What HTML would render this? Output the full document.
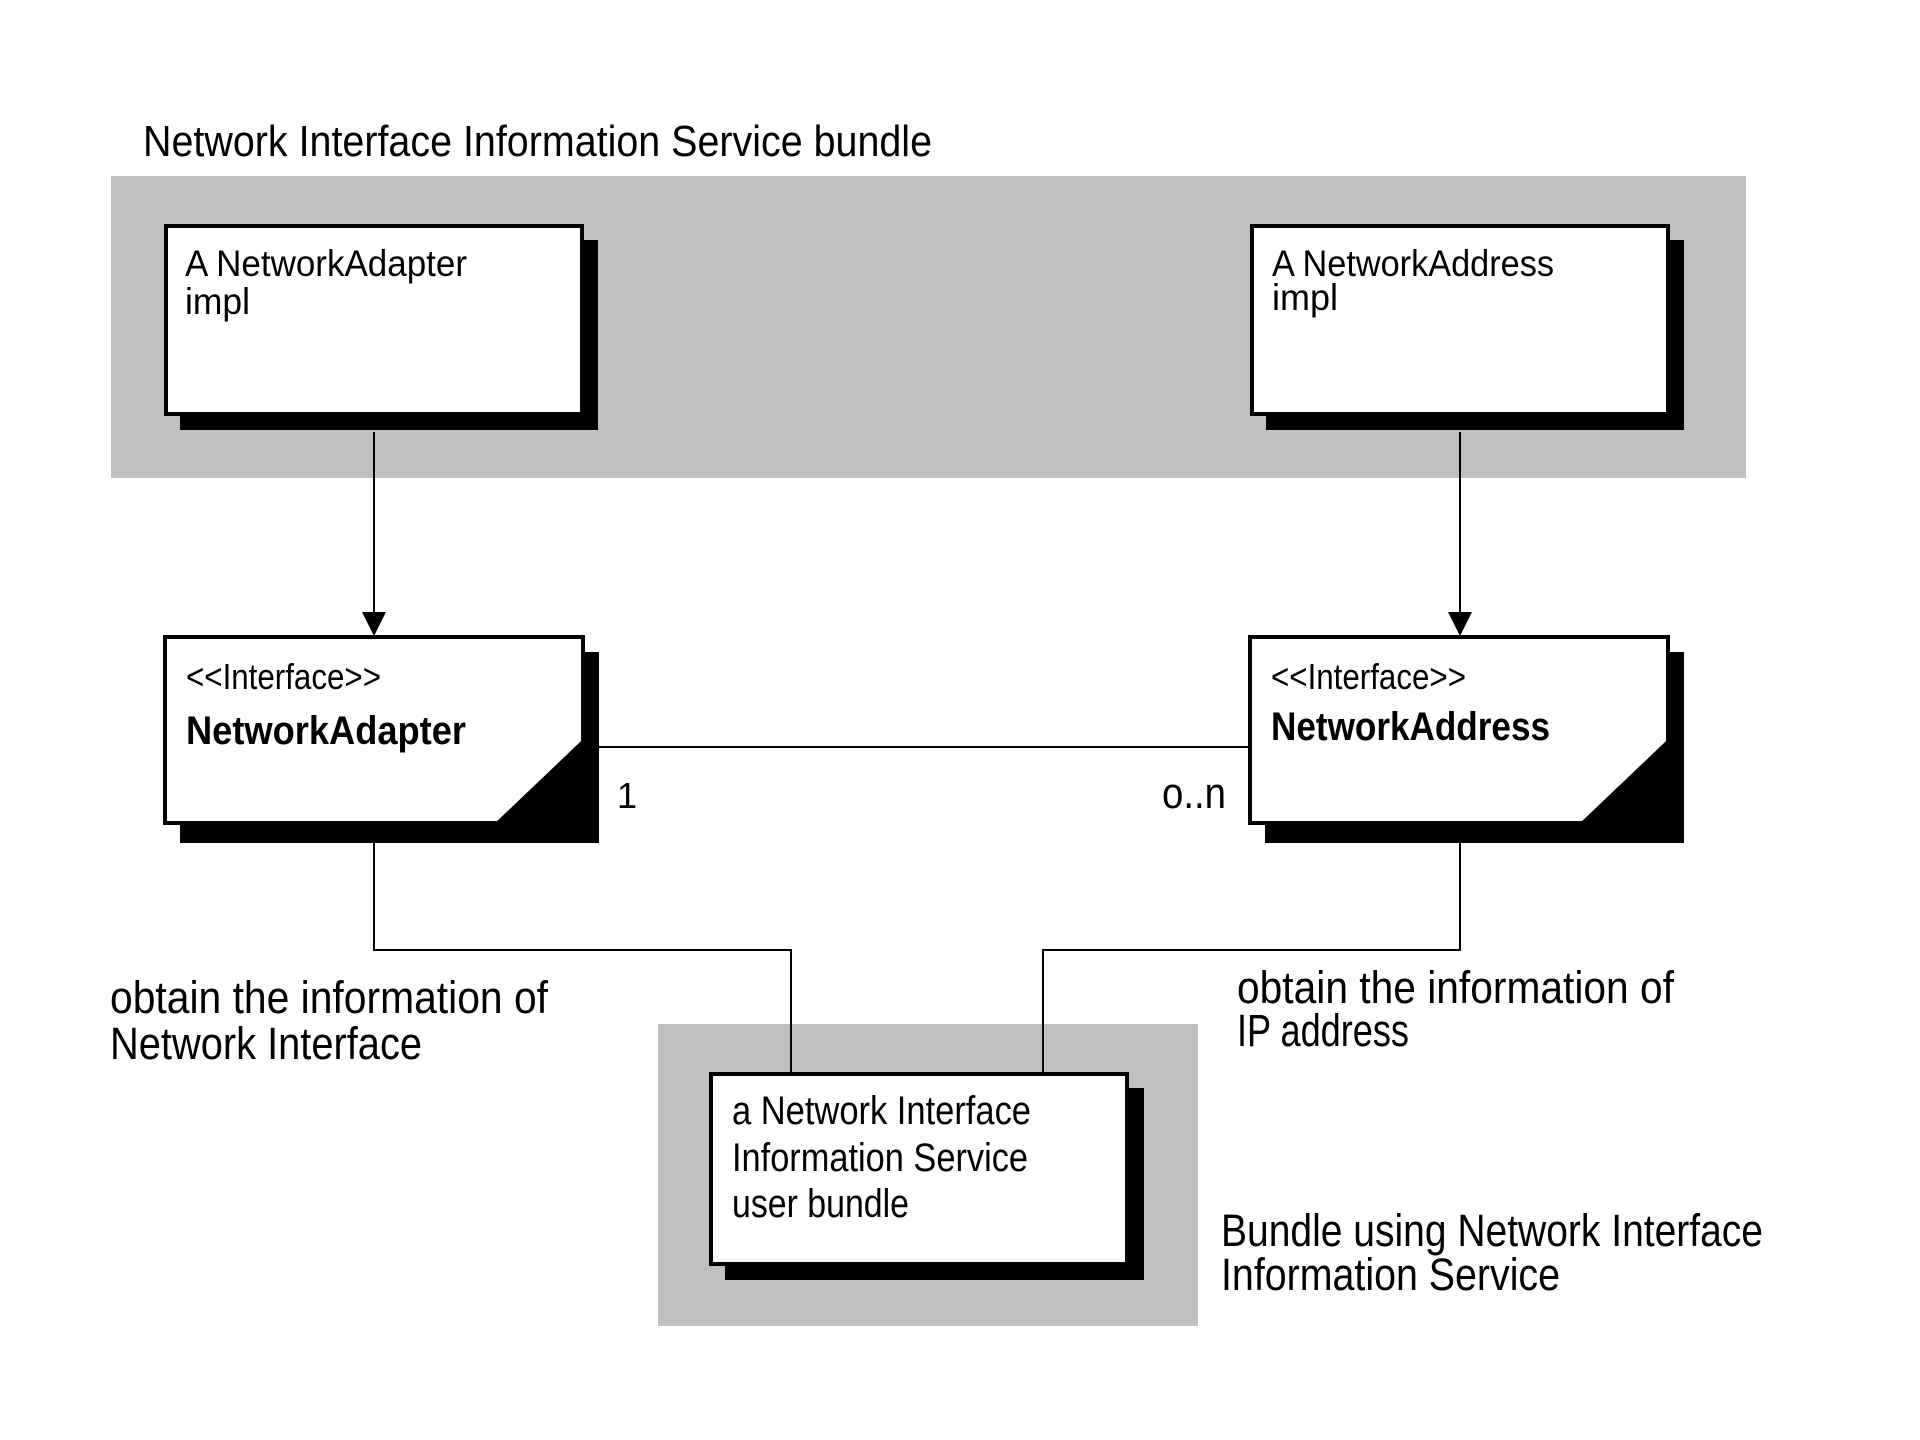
<!DOCTYPE html>
<html><head><meta charset="utf-8"><style>
html,body{margin:0;padding:0;background:#fff;}
svg{display:block;}
text{font-family:"Liberation Sans",sans-serif;fill:#000;}
</style></head><body>
<svg width="1920" height="1440" viewBox="0 0 1920 1440" xmlns="http://www.w3.org/2000/svg">
<rect x="0" y="0" width="1920" height="1440" fill="#fff"/>
<rect x="111" y="176" width="1635" height="302" fill="#c0c0c0"/>
<rect x="658" y="1024" width="540" height="302" fill="#c0c0c0"/>

<text x="143" y="156" font-size="44" textLength="789" lengthAdjust="spacingAndGlyphs">Network Interface Information Service bundle</text>

<rect x="180" y="240" width="418" height="190" fill="#000"/>
<rect x="166" y="226" width="416" height="188" fill="#fff" stroke="#000" stroke-width="4"/>
<text x="185" y="276" font-size="37" textLength="282" lengthAdjust="spacingAndGlyphs">A NetworkAdapter</text>
<text x="185" y="314" font-size="37" textLength="65" lengthAdjust="spacingAndGlyphs">impl</text>

<rect x="1266" y="240" width="418" height="190" fill="#000"/>
<rect x="1252" y="226" width="416" height="188" fill="#fff" stroke="#000" stroke-width="4"/>
<text x="1272" y="276" font-size="37" textLength="282" lengthAdjust="spacingAndGlyphs">A NetworkAddress</text>
<text x="1272" y="310" font-size="37" textLength="66" lengthAdjust="spacingAndGlyphs">impl</text>

<line x1="374" y1="432" x2="374" y2="616" stroke="#000" stroke-width="2"/>
<polygon points="362,612 386,612 374,636" fill="#000"/>
<line x1="1460" y1="432" x2="1460" y2="616" stroke="#000" stroke-width="2"/>
<polygon points="1448,612 1472,612 1460,636" fill="#000"/>

<rect x="180" y="652" width="419" height="191" fill="#000"/>
<polygon points="165,637 583,637 583,742 498,823 165,823" fill="#fff" stroke="#000" stroke-width="4"/>
<polygon points="583,742 583,823 498,823" fill="#000"/>
<text x="186" y="689" font-size="36" textLength="195" lengthAdjust="spacingAndGlyphs">&lt;&lt;Interface&gt;&gt;</text>
<text x="186" y="744" font-size="40" font-weight="bold" textLength="280" lengthAdjust="spacingAndGlyphs">NetworkAdapter</text>

<rect x="1265" y="652" width="419" height="191" fill="#000"/>
<polygon points="1250,637 1668,637 1668,742 1583,823 1250,823" fill="#fff" stroke="#000" stroke-width="4"/>
<polygon points="1668,742 1668,823 1583,823" fill="#000"/>
<text x="1271" y="689" font-size="36" textLength="195" lengthAdjust="spacingAndGlyphs">&lt;&lt;Interface&gt;&gt;</text>
<text x="1271" y="740" font-size="40" font-weight="bold" textLength="279" lengthAdjust="spacingAndGlyphs">NetworkAddress</text>

<line x1="599" y1="747" x2="1250" y2="747" stroke="#000" stroke-width="2"/>
<text x="617" y="808" font-size="36" font-family="Liberation Mono">1</text>
<text x="1162" y="808" font-size="44" textLength="64" lengthAdjust="spacingAndGlyphs">o..n</text>

<polyline points="374,843 374,950 791,950 791,1074" fill="none" stroke="#000" stroke-width="2"/>
<polyline points="1460,843 1460,950 1043,950 1043,1074" fill="none" stroke="#000" stroke-width="2"/>

<text x="110" y="1013" font-size="45" textLength="438" lengthAdjust="spacingAndGlyphs">obtain the information of</text>
<text x="110" y="1059" font-size="45" textLength="312" lengthAdjust="spacingAndGlyphs">Network Interface</text>
<text x="1237" y="1003" font-size="45" textLength="437" lengthAdjust="spacingAndGlyphs">obtain the information of</text>
<text x="1237" y="1046" font-size="45" textLength="172" lengthAdjust="spacingAndGlyphs">IP address</text>

<rect x="725" y="1088" width="419" height="192" fill="#000"/>
<rect x="711" y="1074" width="416" height="190" fill="#fff" stroke="#000" stroke-width="4"/>
<text x="732" y="1124" font-size="40" textLength="299" lengthAdjust="spacingAndGlyphs">a Network Interface</text>
<text x="732" y="1171" font-size="40" textLength="296" lengthAdjust="spacingAndGlyphs">Information Service</text>
<text x="732" y="1217" font-size="40" textLength="177" lengthAdjust="spacingAndGlyphs">user bundle</text>

<text x="1221" y="1246" font-size="45" textLength="542" lengthAdjust="spacingAndGlyphs">Bundle using Network Interface</text>
<text x="1221" y="1290" font-size="45" textLength="339" lengthAdjust="spacingAndGlyphs">Information Service</text>
</svg>
</body></html>
